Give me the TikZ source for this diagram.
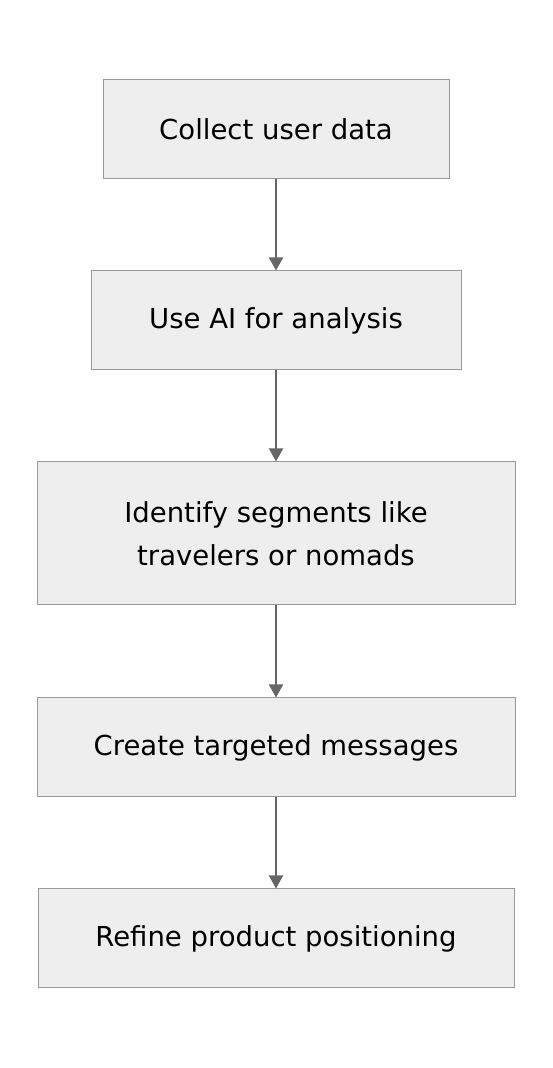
\documentclass[tikz,border=0pt]{standalone}
\usepackage{fontspec}
\setmainfont{DejaVu Sans}
\usepackage{tikz}
\usetikzlibrary{arrows.meta}
\usetikzlibrary{positioning}

\definecolor{boxfill}{HTML}{EEEEEE}
\definecolor{boxline}{HTML}{999999}
\definecolor{arrowline}{HTML}{666666}

\tikzset{
	stepbox/.style = {draw = boxline, fill = boxfill, line width = 1pt, inner sep = 0pt,
		minimum height = 99pt, align = center, font = \fontsize{27.5}{43}\selectfont},
	flow/.style = {-{Triangle[width = 14pt, length = 13pt]}, draw = arrowline, line width = 2pt}
}

\begin{document}
\begin{tikzpicture}[x = 1pt, y = 1pt]
			%\draw[help lines] (0,0) grid (552,1068);
			\useasboundingbox (0, 0) rectangle (552, 1068);
			\node[stepbox, minimum width = 346pt] (collect) at (276, 938.5) {Collect user data};
			\node[stepbox, minimum width = 370pt] (analysis) at (276, 747.5) {Use AI for analysis};
			\node[stepbox, minimum width = 478pt, minimum height = 143pt] (segments) at (276, 534.5) {Identify segments like\\ travelers or nomads};
			\node[stepbox, minimum width = 478pt] (messages) at (276, 320.5) {Create targeted messages};
			\node[stepbox, minimum width = 476pt] (refine) at (276, 129.5) {Refine product positioning};
			
			\draw[flow] (collect) -- (analysis);
			\draw[flow] (analysis) -- (segments);
			\draw[flow] (segments) -- (messages);
			\draw[flow] (messages) -- (refine);
		\end{tikzpicture}
\end{document}
